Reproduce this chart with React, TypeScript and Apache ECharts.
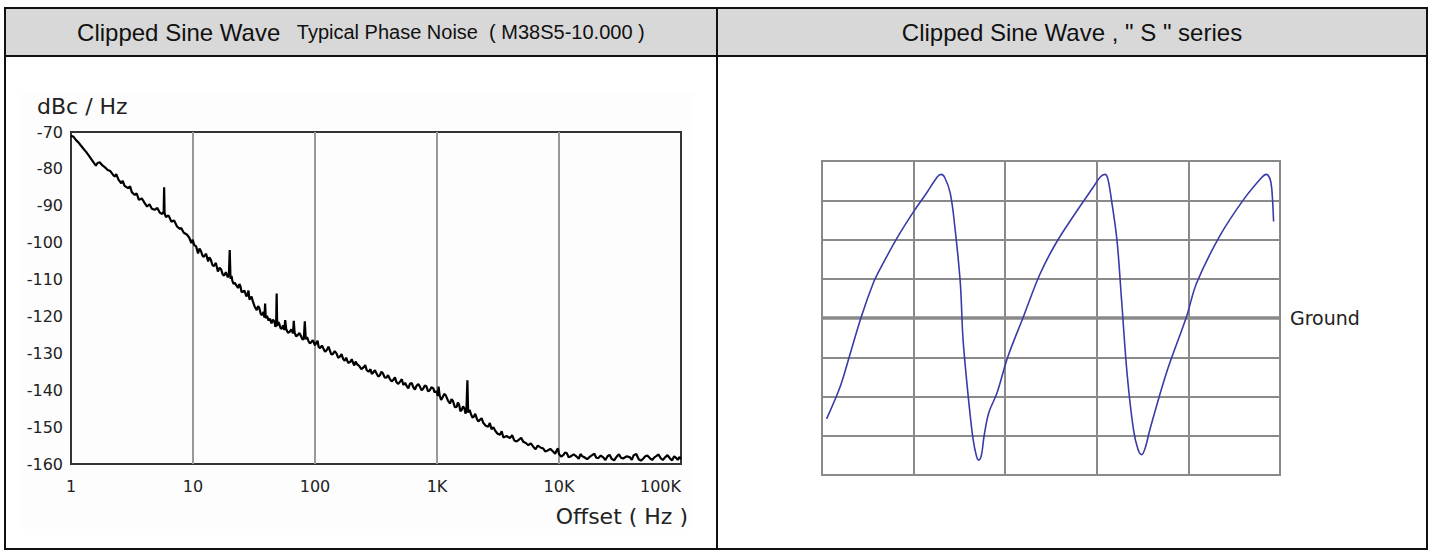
import React, { useEffect, useRef } from "react";
import * as echarts from "echarts";

// ---- Phase noise (left chart) ----
const xTickValues = [1, 10, 100, 1000, 10000, 100000];
const xTickLabels = ["1", "10", "100", "1K", "10K", "100K"];
const yTicks = [-160, -150, -140, -130, -120, -110, -100, -90, -80, -70];

// [offset frequency (Hz), dBc/Hz]
const phaseNoise: [number, number][] = [
  [1, -71], [1.05, -71.3], [1.1, -72.2], [1.15, -72.8], [1.2, -73.6], [1.27, -74.6],
  [1.33, -75.4], [1.42, -76.7], [1.5, -77.8], [1.6, -79.1], [1.65, -78.4], [1.72, -78.2],
  [1.8, -79.0], [1.9, -79.6], [2.0, -80.3], [2.1, -80.6], [2.2, -81.5], [2.28, -82.1],
  [2.35, -81.4], [2.45, -82.9], [2.58, -83.9], [2.65, -83.2], [2.75, -84.6], [2.93, -85.2],
  [3.05, -84.7], [3.15, -86.3], [3.33, -87.1], [3.45, -86.6], [3.6, -88.4], [3.8, -88.0],
  [4.02, -89.3], [4.2, -90.2], [4.4, -89.6], [4.6, -90.8], [4.85, -91.1], [5.1, -90.6],
  [5.35, -91.9], [5.6, -92.2], [5.75, -91.6], [5.8, -85.0], [5.85, -92.0], [6.0, -93.1],
  [6.3, -92.6], [6.65, -94.3], [7.0, -94.0], [7.4, -95.6], [7.8, -96.3], [8.0, -96.0],
  [8.4, -97.3], [8.9, -97.8], [9.3, -98.6], [9.7, -100.1], [9.95, -99.2], [10.2, -100.6],
  [10.6, -101.0], [11.0, -102.9], [11.3, -101.6], [11.6, -102.2], [12.0, -103.6], [12.3, -103.8],
  [12.8, -103.0], [13.3, -105.1], [13.6, -104.0], [14.0, -104.6], [14.4, -106.0], [14.8, -106.4],
  [15.4, -105.5], [16.0, -107.8], [16.5, -106.8], [17.0, -107.2], [17.5, -108.6], [18.0, -108.9],
  [18.6, -108.0], [19.3, -109.4], [19.7, -108.6], [20.0, -102.0], [20.3, -109.8], [20.7, -109.0],
  [21.0, -110.3], [21.5, -111.2], [22.0, -110.9], [22.7, -111.6], [23.4, -112.3], [24.0, -111.2],
  [24.5, -111.8], [25.0, -113.4], [25.5, -113.3], [26.4, -113.0], [27.4, -114.6], [28.0, -114.0],
  [28.5, -113.0], [29.0, -115.4], [29.5, -115.2], [30.2, -114.6], [31.0, -116.0], [32.0, -117.3],
  [33.3, -118.3], [34.2, -117.2], [35.0, -117.8], [36.0, -119.4], [37.0, -119.6], [37.8, -118.8],
  [38.5, -120.3], [39.0, -116.5], [39.5, -120.5], [40.5, -119.8], [41.5, -121.1], [42.7, -120.6],
  [44.0, -121.9], [45.2, -120.9], [46.5, -121.4], [47.3, -122.8], [48.0, -122.4], [48.5, -113.8],
  [49.0, -122.6], [50.0, -121.5], [51.0, -122.0], [52.2, -123.2], [53.5, -123.3], [54.8, -122.4],
  [56.0, -123.7], [57.0, -121.0], [58.0, -123.4], [60.0, -124.4], [62.0, -124.2], [64.0, -123.5],
  [66.0, -124.6], [67.0, -121.2], [68.0, -124.3], [70.0, -125.4], [72.0, -125.1], [74.5, -124.5],
  [77.0, -125.4], [79.0, -126.3], [81.0, -126.0], [82.5, -121.3], [84.0, -126.2], [86.0, -125.6],
  [88.0, -126.5], [90.5, -127.3], [93.0, -127.0], [96.0, -126.4], [100, -127.8], [103, -127.0],
  [105, -126.6], [107, -128.2], [110, -128.6], [114, -127.9], [118, -128.9], [121, -129.6],
  [125, -129.1], [129, -128.2], [133, -129.4], [136, -130.3], [140, -130.2], [145, -129.4],
  [150, -130.0], [155, -131.2], [160, -130.9], [165, -130.2], [170, -131.5], [175, -132.0],
  [180, -131.2], [187, -132.6], [195, -132.3], [200, -131.6], [206, -132.7], [210, -133.3],
  [215, -132.2], [222, -133.0], [230, -133.4], [240, -134.3], [250, -133.8], [258, -133.2],
  [265, -134.5], [275, -135.0], [285, -134.3], [292, -135.6], [300, -135.2], [310, -134.6],
  [320, -135.5], [330, -136.3], [341, -135.9], [350, -135.0], [360, -135.4], [372, -136.5],
  [385, -136.6], [397, -135.9], [410, -136.9], [425, -137.6], [439, -137.2], [452, -136.5],
  [465, -137.8], [482, -138.3], [500, -137.6], [515, -137.0], [530, -138.6], [548, -138.0],
  [565, -138.9], [582, -139.5], [600, -138.3], [620, -138.0], [640, -139.2], [660, -139.8],
  [680, -138.8], [703, -138.3], [726, -139.1], [748, -140.0], [770, -139.6], [795, -138.7],
  [820, -139.0], [845, -140.3], [870, -140.1], [900, -139.2], [933, -139.5], [955, -140.6],
  [980, -140.3], [1000, -140.6], [1015, -141.6], [1030, -139.0], [1050, -141.3], [1080, -142.6],
  [1110, -142.0], [1145, -141.0], [1180, -141.4], [1230, -142.8], [1280, -143.6], [1315, -142.4],
  [1350, -142.9], [1400, -144.6], [1450, -144.5], [1485, -143.3], [1520, -144.0], [1555, -145.7],
  [1590, -145.4], [1635, -144.4], [1680, -145.0], [1710, -146.3], [1740, -145.8], [1775, -137.3],
  [1800, -146.0], [1850, -145.3], [1900, -146.5], [1950, -147.4], [2000, -147.2], [2060, -146.4],
  [2113, -147.6], [2180, -148.5], [2250, -148.0], [2320, -147.6], [2400, -148.9], [2510, -149.6],
  [2630, -149.9], [2710, -148.9], [2800, -150.6], [2900, -150.0], [3000, -151.0], [3140, -151.8],
  [3280, -152.1], [3390, -151.1], [3500, -152.8], [3720, -152.4], [3960, -153.0], [4130, -152.2],
  [4300, -153.6], [4500, -153.9], [4700, -153.4], [4900, -152.9], [5100, -154.0], [5350, -154.3],
  [5600, -154.9], [5870, -154.4], [6150, -155.3], [6430, -156.0], [6700, -155.0], [7050, -155.5],
  [7430, -155.8], [7700, -156.6], [8000, -156.4], [8480, -155.9], [8980, -156.7], [9300, -157.2],
  [9600, -156.2], [9800, -155.8], [10000, -157.3], [10400, -158.0], [10840, -157.6], [11200, -156.9],
  [11600, -157.1], [12000, -158.2], [12500, -157.9], [13200, -157.4], [13960, -158.0], [14500, -158.6],
  [15000, -157.3], [15500, -157.9], [16000, -158.1], [17000, -158.7], [17950, -158.0], [18700, -157.6],
  [19500, -157.2], [20200, -158.3], [21000, -158.4], [22000, -157.7], [23070, -158.2], [24000, -158.9],
  [25000, -157.9], [26000, -157.5], [27000, -158.6], [28300, -159.0], [29700, -158.0], [31000, -157.4],
  [32200, -158.3], [33500, -158.5], [36000, -157.9], [38200, -158.2], [39500, -158.9], [41000, -157.6],
  [43000, -157.3], [45000, -158.7], [47000, -159.1], [49100, -158.5], [51000, -157.9], [53000, -157.7],
  [55500, -158.4], [58000, -158.9], [60500, -158.2], [63100, -157.8], [65500, -157.4], [68000, -158.4],
  [71000, -158.9], [74000, -158.2], [77500, -157.6], [81300, -158.5], [84500, -159.0], [88000, -157.9],
  [91000, -158.3], [94000, -158.9], [97000, -158.1], [100000, -158.7],
];

// ---- Clipped sine wave (right chart), in grid divisions ----
const waveDivX = [0, 5];
const waveDivY = [-4, 4];
const groundLevel = 0;
const wave: [number, number][] = [
  [0.05, -2.57], [0.2, -1.74], [0.31, -0.89], [0.43, 0.04], [0.56, 0.89], [0.63, 1.23],
  [0.82, 2.04], [1.0, 2.71], [1.14, 3.18], [1.26, 3.6], [1.3, 3.66], [1.34, 3.58],
  [1.4, 3.18], [1.45, 2.33], [1.51, 0.89], [1.54, -0.55], [1.6, -2.08], [1.65, -3.1],
  [1.69, -3.55], [1.71, -3.62], [1.74, -3.5], [1.77, -3.0], [1.82, -2.42], [1.91, -1.91],
  [2.03, -0.98], [2.2, 0.04], [2.38, 1.12], [2.56, 1.93], [2.78, 2.72], [2.96, 3.33],
  [3.04, 3.6], [3.09, 3.66], [3.12, 3.55], [3.16, 3.01], [3.22, 1.99], [3.27, 0.47],
  [3.33, -1.4], [3.4, -2.84], [3.45, -3.35], [3.49, -3.48], [3.53, -3.3], [3.58, -2.84],
  [3.76, -1.4], [3.98, 0.04], [4.09, 0.89], [4.34, 2.08], [4.6, 3.01], [4.8, 3.58],
  [4.85, 3.66], [4.89, 3.55], [4.91, 3.3], [4.93, 2.46],
];

const headerLeftMain = "Clipped Sine Wave";
const headerLeftSub = "Typical Phase Noise  ( M38S5-10.000 )";
const headerRight = 'Clipped Sine Wave , " S " series';
const yName = "dBc / Hz";
const xName = "Offset ( Hz )";
const groundName = "Ground";

const HEADER_FONT = "'Liberation Sans', Arial, sans-serif";
const CHART_FONT = "'DejaVu Sans', sans-serif";

export default function App() {
  const ref = useRef<HTMLDivElement>(null);

  useEffect(() => {
    if (!ref.current) return;
    const chart = echarts.init(ref.current, undefined, { renderer: "svg" });

    const L = 5, R = 1427, T = 8, B = 549, HB = 56, MID = 717;

    chart.setOption({
      animation: false,
      backgroundColor: "#ffffff",
      grid: [
        { left: 71, top: 132, width: 610, height: 332, show: true, borderColor: "#333", borderWidth: 2, backgroundColor: "transparent" },
        { left: 822, top: 161, width: 458, height: 314, show: true, borderColor: "#8a8a8a", borderWidth: 2, backgroundColor: "transparent" },
      ],
      xAxis: [
        {
          gridIndex: 0, type: "log", logBase: 10, min: 1, max: 100000,
          axisLine: { show: false }, axisTick: { show: false },
          splitLine: { show: true, showMinLine: false, showMaxLine: false, lineStyle: { color: "#999", width: 2 } },
          axisLabel: {
            margin: 14, color: "#222", fontFamily: CHART_FONT, fontSize: 16, alignMaxLabel: "right",
            formatter: (v: number) => {
              const i = xTickValues.findIndex((t) => Math.abs(Math.log10(t) - Math.log10(v)) < 1e-6);
              return i >= 0 ? xTickLabels[i] : "";
            },
          },
        },
        {
          gridIndex: 1, type: "value", min: waveDivX[0], max: waveDivX[1], interval: 1,
          axisLine: { show: false }, axisTick: { show: false }, axisLabel: { show: false },
          splitLine: { show: true, showMinLine: false, showMaxLine: false, lineStyle: { color: "#8a8a8a", width: 2 } },
        },
      ],
      yAxis: [
        {
          gridIndex: 0, type: "value", min: yTicks[0], max: yTicks[yTicks.length - 1], interval: 10,
          axisLine: { show: false }, axisTick: { show: false }, splitLine: { show: false },
          axisLabel: { margin: 8, color: "#222", fontFamily: CHART_FONT, fontSize: 16 },
        },
        {
          gridIndex: 1, type: "value", min: waveDivY[0], max: waveDivY[1], interval: 1,
          axisLine: { show: false }, axisTick: { show: false }, axisLabel: { show: false },
          splitLine: { show: true, showMinLine: false, showMaxLine: false, lineStyle: { color: "#8a8a8a", width: 2 } },
        },
      ],
      series: [
        {
          type: "line", xAxisIndex: 0, yAxisIndex: 0, data: phaseNoise,
          showSymbol: false, symbol: "none", lineStyle: { color: "#000", width: 2.2 }, z: 5,
        },
        {
          type: "line", xAxisIndex: 1, yAxisIndex: 1, data: wave, smooth: 0.35,
          showSymbol: false, symbol: "none", lineStyle: { color: "#3b3ba8", width: 1.6 }, z: 5,
          markLine: {
            silent: true, symbol: "none",
            lineStyle: { color: "#8a8a8a", width: 3.5, type: "solid" },
            label: { show: true, position: "end", formatter: groundName, color: "#222", fontFamily: CHART_FONT, fontSize: 19, distance: 10 },
            data: [{ yAxis: groundLevel }],
          },
        },
      ],
      graphic: [
        { type: "rect", z: -10, silent: true, shape: { x: 21, y: 93, width: 672, height: 436 }, style: { fill: "#fdfdfd" } },
        { type: "rect", silent: true, shape: { x: L, y: T, width: R - L, height: HB - T }, style: { fill: "#d8d8d8" } },
        { type: "rect", silent: true, shape: { x: L, y: T, width: R - L, height: B - T }, style: { fill: "none", stroke: "#111", lineWidth: 2 } },
        { type: "line", silent: true, shape: { x1: L, y1: HB, x2: R, y2: HB }, style: { stroke: "#111", lineWidth: 2 } },
        { type: "line", silent: true, shape: { x1: MID, y1: T, x2: MID, y2: B }, style: { stroke: "#111", lineWidth: 2 } },
        {
          type: "text", silent: true,
          style: {
            x: (L + MID) / 2, y: 32,
            text: `{a|${headerLeftMain}}{b|   ${headerLeftSub}}`,
            rich: {
              a: { fontFamily: HEADER_FONT, fontSize: 24, fill: "#111", color: "#111" },
              b: { fontFamily: HEADER_FONT, fontSize: 20, fill: "#111", color: "#111" },
            },
            align: "center", textAlign: "center", verticalAlign: "middle", textVerticalAlign: "middle",
          },
        },
        {
          type: "text", silent: true,
          style: {
            x: (MID + R) / 2, y: 32, text: headerRight, fill: "#111",
            font: `24px ${HEADER_FONT}`,
            align: "center", textAlign: "center", verticalAlign: "middle", textVerticalAlign: "middle",
          },
        },
        {
          type: "text", silent: true,
          style: {
            x: 37, y: 106, text: yName, fill: "#222", font: `22px ${CHART_FONT}`,
            align: "left", textAlign: "left", verticalAlign: "middle", textVerticalAlign: "middle",
          },
        },
        {
          type: "text", silent: true,
          style: {
            x: 688, y: 516, text: xName, fill: "#222", font: `22px ${CHART_FONT}`,
            align: "right", textAlign: "right", verticalAlign: "middle", textVerticalAlign: "middle",
          },
        },
      ],
    });

    return () => chart.dispose();
  }, []);

  return <div ref={ref} style={{ position: "absolute", left: 0, top: 0, width: 1431, height: 555 }} />;
}
